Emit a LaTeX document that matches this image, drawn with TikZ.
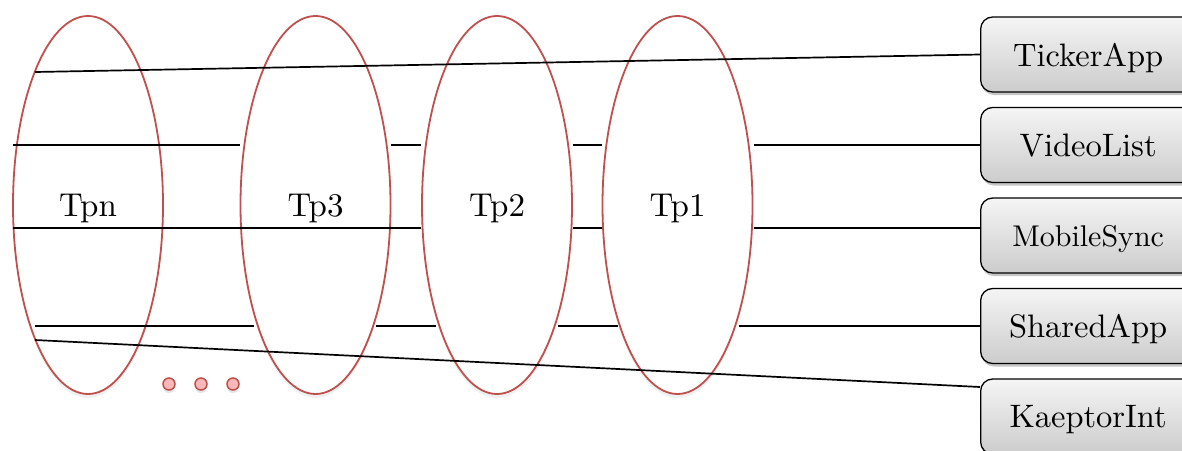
\documentclass[tikz,border=0pt]{standalone}
\usepackage{fontspec}
\setmainfont{lmroman10-regular}[Extension=.otf]
\usetikzlibrary{shapes.geometric,shadows}
\definecolor{ringred}{HTML}{C0504D}
\definecolor{dotpink}{HTML}{F8B8B8}
\begin{document}
\begin{tikzpicture}[x=1pt,y=-1pt,
  tp/.style={ellipse,draw=ringred,line width=1.8pt,fill=white,
    minimum width=150pt,minimum height=378pt,inner sep=0pt,text depth=0pt,
    font=\fontsize{33}{39}\selectfont,
    drop shadow={opacity=0.12,shadow xshift=0pt,shadow yshift=-4pt}},
  app/.style={rectangle,rounded corners=12pt,draw=black,line width=1.3pt,
    top color=gray!8,bottom color=gray!40,
    minimum width=215pt,minimum height=75pt,inner sep=0pt,anchor=west,
    text depth=0pt,font=\fontsize{32.5}{38}\selectfont,
    drop shadow={opacity=0.45,shadow xshift=1pt,shadow yshift=-3pt}},
  wire/.style={draw=black,line width=1.7pt},
  dot/.style={circle,draw=ringred,fill=dotpink,line width=1.5pt,
    minimum size=12pt,inner sep=0pt,
    drop shadow={opacity=0.2,shadow xshift=0pt,shadow yshift=-3pt}}]
\useasboundingbox (0,0) rectangle (1182,450);
\clip (0,0) rectangle (1182,450);

% thread pools
\node[tp] (tpn) at (88,205)    {Tpn};
\node[tp] (tp3) at (315.5,205) {Tp3};
\node[tp] (tp2) at (497,205)   {Tp2};
\node[tp] (tp1) at (677.5,205) {Tp1};

% ellipsis dots
\node[dot] (d1) at (169,384) {};
\node[dot] (d2) at (201,384) {};
\node[dot] (d3) at (233,384) {};

% applications
\node[app] (ticker)  at (980,54.5)  {TickerApp};
\node[app] (video)   at (980,145)   {VideoList};
\node[app,font=\fontsize{30}{36}\selectfont] (mobile) at (980,235.5) {MobileSync};
\node[app] (shared)  at (980,326)   {SharedApp};
\node[app] (kaeptor) at (980,416.5) {KaeptorInt};

% segment end points on the pool rings
\coordinate (t0) at (35,72);
\coordinate (k0) at (35,340);
\coordinate (v0) at (13,145);  \coordinate (v1) at (240,145);
\coordinate (v2) at (391,145); \coordinate (v3) at (421,145);
\coordinate (v4) at (573,145); \coordinate (v5) at (602,145);
\coordinate (v6) at (754,145);
\coordinate (m0) at (13,228);  \coordinate (m1) at (240,228);
\coordinate (m2) at (194,228); \coordinate (m3) at (421,228);
\coordinate (m4) at (573,228); \coordinate (m5) at (602,228);
\coordinate (m6) at (754,228);
\coordinate (s0) at (35,326);  \coordinate (s1) at (254,326);
\coordinate (s2) at (376,326); \coordinate (s3) at (436,326);
\coordinate (s4) at (558,326); \coordinate (s5) at (618,326);
\coordinate (s6) at (739,326);

% TickerApp
\draw[wire] (t0) -- (ticker.west);
% VideoList
\draw[wire] (v0) -- (v1);
\draw[wire] (v2) -- (v3);
\draw[wire] (v4) -- (v5);
\draw[wire] (v6) -- (video.west);
% MobileSync
\draw[wire] (m0) -- (m1);
\draw[wire] (m2) -- (m3);
\draw[wire] (m4) -- (m5);
\draw[wire] (m6) -- (mobile.west |- m6);
% SharedApp
\draw[wire] (s0) -- (s1);
\draw[wire] (s2) -- (s3);
\draw[wire] (s4) -- (s5);
\draw[wire] (s6) -- (shared.west);
% KaeptorInt
\coordinate (k1) at (980,387);
\draw[wire] (k0) -- (kaeptor.west |- k1);
\end{tikzpicture}
\end{document}
